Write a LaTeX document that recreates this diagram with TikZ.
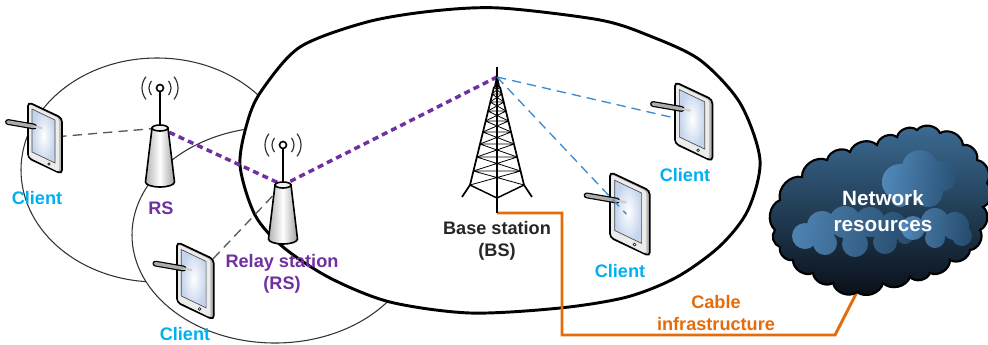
\documentclass[tikz,border=0pt]{standalone}
\usepackage{fontspec}
\setmainfont{Liberation Sans}
\usepackage{tikz}
\usetikzlibrary{arrows.meta,positioning,calc}
\definecolor{violetrs}{RGB}{112,48,160}
\definecolor{bleuclient}{RGB}{0,176,240}
\definecolor{bleulien}{RGB}{60,140,210}
\definecolor{orangecable}{RGB}{228,108,10}
\definecolor{nuageclair}{RGB}{60,108,148}
\definecolor{nuagefonce}{RGB}{8,14,22}
\definecolor{bouffee}{RGB}{92,152,205}
\definecolor{bouffeefonce}{RGB}{40,82,120}
\definecolor{ecran}{RGB}{196,212,236}
\pgfdeclarelayer{fond}
\pgfsetlayers{fond,main}

\tikzset{
  txt/.style={font=\bfseries\fontsize{13.6}{16.5}\selectfont,align=center,inner sep=0pt},
  zone/.style={line width=0.8pt,draw=black!80,fill=white},
  cellule/.style={line width=2.2pt,fill=white},
  liengris/.style={draw=black!65,line width=1pt,dash pattern=on 7pt off 4.5pt},
  lienviolet/.style={draw=violetrs,line width=2.6pt,dash pattern=on 4.5pt off 3.2pt},
  lienbleu/.style={draw=bleulien,line width=1pt,dash pattern=on 7pt off 4.5pt},
  fil/.style={draw=orangecable,line width=2.2pt},
  onde/.style={line width=0.9pt,line cap=round,black!80},
  bosse/.style={bend left=58},
  pics/relais/.style={code={
    \draw[line width=1.5pt] (0,0) -- (0,40);
    \draw[line width=1.2pt,fill=white] (0,0) circle (3.5);
    \foreach \r in {11,18}{
      \draw[onde] (-38:\r) arc (-38:38:\r);
      \draw[onde] (142:\r) arc (142:218:\r);
    }
    \draw[line width=1.2pt,left color=gray!60,right color=gray!75,middle color=white]
      (-8,40) -- (-14.5,94) arc (180:0:14.5 and 5) -- (8,40) -- cycle;
    \draw[line width=1.2pt,fill=gray!10] (0,40) ellipse (8 and 3);
    \coordinate (-top) at (0,40);
  }},
  pics/tablette/.style={code={
    \draw[line width=1.3pt,rounded corners=3,fill=gray!55] (0,0) -- (34,16) -- (34,72) -- (0,56) -- cycle;
    \fill[rounded corners=2,gray!15] (1,2) -- (31,16.5) -- (31,70) -- (1,55) -- cycle;
    \shadedraw[inner color=white,outer color=ecran,draw=black!70,line width=0.5pt]
      (4,7) -- (27,18) -- (27,61) -- (4,50) -- cycle;
    \draw[line width=0.4pt,fill=white] (21,62) circle (1.3);
    \draw[line width=4.4pt,line cap=round] (-20,20) -- (6,24.5);
    \draw[line width=2.6pt,line cap=round,gray!65] (-20,20) -- (6,24.5);
    \draw[line width=1.6pt,gray!40] (6,24.5) -- (14,26);
    \coordinate (-ecran) at (14,36);
  }},
  pics/pylone/.style={code={
    \draw[line width=1.6pt] (0,0) -- (0,146);
    \fill (-1,10) -- (1,10) -- (3,20) -- (-3,20) -- cycle;
    \draw[line width=1.3pt] (-3,20) -- (-27,118) -- (-35,130) (3,20) -- (27,118) -- (35,130);
    \draw[line width=1.1pt] (-27,118) -- (0,131) -- (27,118);
    \foreach \a/\b in {20/27,27/35,35/44,44/54,54/65,65/77,77/90,90/104,104/118}{
      \pgfmathsetmacro\wa{3+0.24*(\a-18)}
      \pgfmathsetmacro\wb{3+0.24*(\b-18)}
      \draw[line width=0.6pt] (-\wa,\a) -- (\wa,\a) (-\wa,\a) -- (\wb,\b) (\wa,\a) -- (-\wb,\b);
    }
    \coordinate (-tip) at (0,10);
    \coordinate (-pied) at (0,146);
  }},
}

\begin{document}
\begin{tikzpicture}[x=0.75pt,y=-0.75pt]
  \clip (0,0) rectangle (988,344);
  \begin{pgfonlayer}{fond}
    \draw[zone] (157,170) ellipse (136 and 112);
    \draw[zone] (275,235) ellipse (143 and 108);
    \draw[cellule] plot[smooth cycle,tension=0.5] coordinates {(240,165) (248,120) (262,90) (300,47)
      (367,22) (433,11) (500,8) (600,20) (650,36) (700,60) (740,103) (760,160) (748,210) (720,246)
      (677,277) (627,297) (560,308) (470,313) (390,302) (330,278) (283,247) (255,215)};
  \end{pgfonlayer}

  \pic (rs1) at (160,88) {relais};
  \pic (rs2) at (283,145) {relais};
  \pic (bs) at (497,67) {pylone};
  \pic (c1) at (28,102) {tablette};
  \pic[scale=1.08] (c2) at (177,242) {tablette};
  \pic[scale=1.1] (c3) at (675,82) {tablette};
  \pic[scale=1.17] (c4) at (610,172) {tablette};

  \draw[line width=1.6pt,top color=nuageclair,bottom color=nuagefonce]
    (775,230) to[bosse] (780,200) to[bosse] (802,177) to[bosse] (827,160) to[bosse] (850,152)
    to[bosse] (877,145) to[bosse] (897,137) to[bosse] (917,130) to[bosse] (940,133)
    to[bosse] (963,145) to[bosse] (977,160) to[bosse] (987,183) to[bosse] (983,207)
    to[bosse] (980,230) to[bosse] (970,250) to[bosse] (950,260) to[bosse] (930,273)
    to[bosse] (910,277) to[bosse] (883,283) to[bosse] (857,292) to[bosse] (833,283)
    to[bosse] (813,273) to[bosse] (793,260) to[bosse] (780,247) to[bosse] (775,230) -- cycle;
  \coordinate (res-bas) at (857,292);
  \begin{scope}[opacity=0.8]
    \shade[left color=bouffee,right color=bouffeefonce] (805,236) circle (13) (822,226) circle (15)
      (845,222) circle (16) (870,222) circle (15) (893,226) circle (14) (825,243) circle (12)
      (855,244) circle (13) (885,242) circle (12) (905,236) circle (8);
    \shade[left color=bouffee,right color=bouffeefonce] (900,182) circle (18) (920,168) circle (18)
      (942,176) circle (15) (928,192) circle (15) (900,198) circle (9);
    \shade[left color=bouffee,right color=bouffeefonce] (913,228) circle (12) (935,222) circle (14)
      (955,226) circle (14) (962,236) circle (10) (935,238) circle (10);
  \end{scope}
  \node[txt,white,font=\bfseries\fontsize{15.5}{20}\selectfont] (res) at (883,211) {Network\\resources};

  \node[txt,bleuclient] (t-c1) at (37,198) {Client};
  \node[txt,bleuclient] (t-c2) at (185,334) {Client};
  \node[txt,bleuclient] (t-c3) at (685,175) {Client};
  \node[txt,bleuclient] (t-c4) at (620,271) {Client};
  \node[txt,violetrs] (t-rs1) at (161,208) {RS};
  \node[txt,violetrs] (t-rs2) at (282,274) {Relay station\\(RS)};
  \node[txt,black!85] (t-bs) at (497,241) {Base station\\(BS)};
  \node[txt,orangecable] (t-cab) at (716,313) {Cable\\infrastructure};

  \coordinate (coude) at (562,335);
  \coordinate (cab-b) at (835,335);
  \begin{pgfonlayer}{fond}
    \draw[fil] (bs-pied) -| (coude) -- (cab-b) -- (res-bas);
    \draw[liengris] (c1-ecran) -- (rs1-top);
    \draw[liengris] (c2-ecran) -- (rs2-top);
    \draw[lienviolet] (rs1-top) -- (rs2-top) -- (bs-tip);
    \draw[lienbleu] (bs-tip) -- (c3-ecran);
  \end{pgfonlayer}
  \draw[lienbleu] (bs-tip) -- (c4-ecran);
\end{tikzpicture}
\end{document}
